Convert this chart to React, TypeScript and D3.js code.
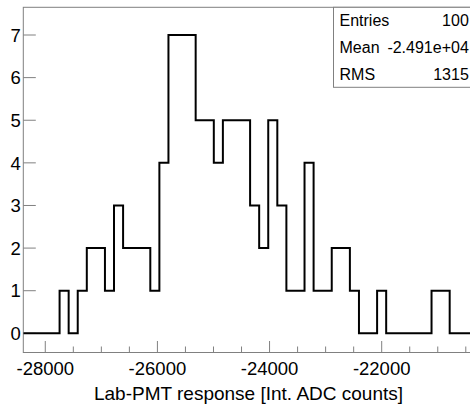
import { useEffect, useRef } from "react";
import * as d3 from "d3";

// histogram contents, one value per bin (left to right)
const binLow = -28392;
const binWidth = 161.8;
const counts = [
  0, 0, 0, 0, 1, 0, 1, 2, 2, 1, 3, 2, 2, 2, 1, 4, 7, 7, 7, 5, 5, 4, 5, 5, 5,
  3, 2, 5, 3, 1, 1, 4, 1, 1, 2, 2, 1, 0, 0, 1, 0, 0, 0, 0, 0, 1, 1, 0, 0, 0,
];

const xMajorTicks = [-28000, -26000, -24000, -22000];
const xMinorStep = 500;
const yTicks = [0, 1, 2, 3, 4, 5, 6, 7];
const xTitle = "Lab-PMT response [Int. ADC counts]";

const statsNames = ["Entries", "Mean", "RMS"];
const statsValues = ["100", "-2.491e+04", "1315"];

const W = 470;
const H = 405;
const frame = { left: 23.3, top: 7.3, right: 471, bottom: 352.5 };
const FONT = "'Liberation Sans', Arial, Helvetica, sans-serif";
const GRAY = "#808080";

export default function App() {
  const svgRef = useRef<SVGSVGElement>(null);

  useEffect(() => {
    if (!svgRef.current) return;
    const svg = d3.select(svgRef.current);
    svg.selectAll("*").remove();

    const x = d3
      .scaleLinear()
      .domain([-28392, -20425])
      .range([frame.left, 470]);
    const y = d3
      .scaleLinear()
      .domain([-0.45, 7.65])
      .range([frame.bottom, frame.top]);

    svg
      .append("rect")
      .attr("width", W)
      .attr("height", H)
      .attr("fill", "#fff");

    svg
      .append("defs")
      .append("clipPath")
      .attr("id", "plotClip")
      .append("rect")
      .attr("x", frame.left)
      .attr("y", frame.top)
      .attr("width", frame.right - frame.left)
      .attr("height", frame.bottom - frame.top);

    // frame
    svg
      .append("rect")
      .attr("x", frame.left)
      .attr("y", frame.top)
      .attr("width", frame.right - frame.left)
      .attr("height", frame.bottom - frame.top)
      .attr("fill", "none")
      .attr("stroke", GRAY)
      .attr("stroke-width", 1);

    // x ticks
    const minor = d3.range(-28500, -20000, xMinorStep);
    svg
      .append("g")
      .selectAll("line")
      .data(minor.filter((v) => x(v) >= frame.left && x(v) <= 470))
      .join("line")
      .attr("x1", (d) => x(d))
      .attr("x2", (d) => x(d))
      .attr("y1", frame.bottom)
      .attr("y2", (d) => frame.bottom - (xMajorTicks.includes(d) ? 11.5 : 6))
      .attr("stroke", GRAY)
      .attr("stroke-width", 1);

    svg
      .append("g")
      .selectAll("text")
      .data(xMajorTicks)
      .join("text")
      .attr("x", (d) => x(d))
      .attr("y", 374.5)
      .attr("text-anchor", "middle")
      .attr("font-family", FONT)
      .attr("font-size", 18.5)
      .text((d) => d.toString());

    // y ticks
    svg
      .append("g")
      .selectAll("line")
      .data(yTicks)
      .join("line")
      .attr("x1", frame.left)
      .attr("x2", frame.left + 12.5)
      .attr("y1", (d) => y(d))
      .attr("y2", (d) => y(d))
      .attr("stroke", GRAY)
      .attr("stroke-width", 1);

    svg
      .append("g")
      .selectAll("text")
      .data(yTicks)
      .join("text")
      .attr("x", 20.8)
      .attr("y", (d) => y(d) + 6.7)
      .attr("text-anchor", "end")
      .attr("font-family", FONT)
      .attr("font-size", 18.5)
      .text((d) => d.toString());

    // histogram outline
    const pts: [number, number][] = counts.map((c, i) => [binLow + i * binWidth, c]);
    pts.push([binLow + counts.length * binWidth, counts[counts.length - 1]]);
    const line = d3
      .line<[number, number]>()
      .x((d) => x(d[0]))
      .y((d) => y(d[1]))
      .curve(d3.curveStepAfter);

    svg
      .append("path")
      .attr("clip-path", "url(#plotClip)")
      .attr("d", line(pts) || "")
      .attr("fill", "none")
      .attr("stroke", "#000")
      .attr("stroke-width", 2)
      .attr("stroke-linejoin", "miter");

    // axis title
    svg
      .append("text")
      .attr("x", 248.5)
      .attr("y", 400)
      .attr("text-anchor", "middle")
      .attr("font-family", FONT)
      .attr("font-size", 19)
      .text(xTitle);

    // stats box
    const sb = { x: 333.5, y: frame.top, w: 140, h: 80 };
    svg
      .append("rect")
      .attr("x", sb.x)
      .attr("y", sb.y)
      .attr("width", sb.w)
      .attr("height", sb.h)
      .attr("fill", "#fff")
      .attr("stroke", GRAY)
      .attr("stroke-width", 1);

    const rowH = sb.h / statsNames.length;
    const rows = svg
      .append("g")
      .selectAll("g")
      .data(statsNames)
      .join("g")
      .attr("transform", (_, i) => `translate(0, ${sb.y + rowH * (i + 0.5) + 5.8})`);
    rows
      .append("text")
      .attr("x", sb.x + 6)
      .attr("font-family", FONT)
      .attr("font-size", 16)
      .text((d) => d);
    rows
      .append("text")
      .attr("x", 468.8)
      .attr("text-anchor", "end")
      .attr("font-family", FONT)
      .attr("font-size", 16)
      .text((_, i) => statsValues[i]);
  }, []);

  return (
    <div style={{ position: "absolute", left: 0, top: 0 }}>
      <svg ref={svgRef} width={W} height={H} style={{ display: "block" }} />
    </div>
  );
}
